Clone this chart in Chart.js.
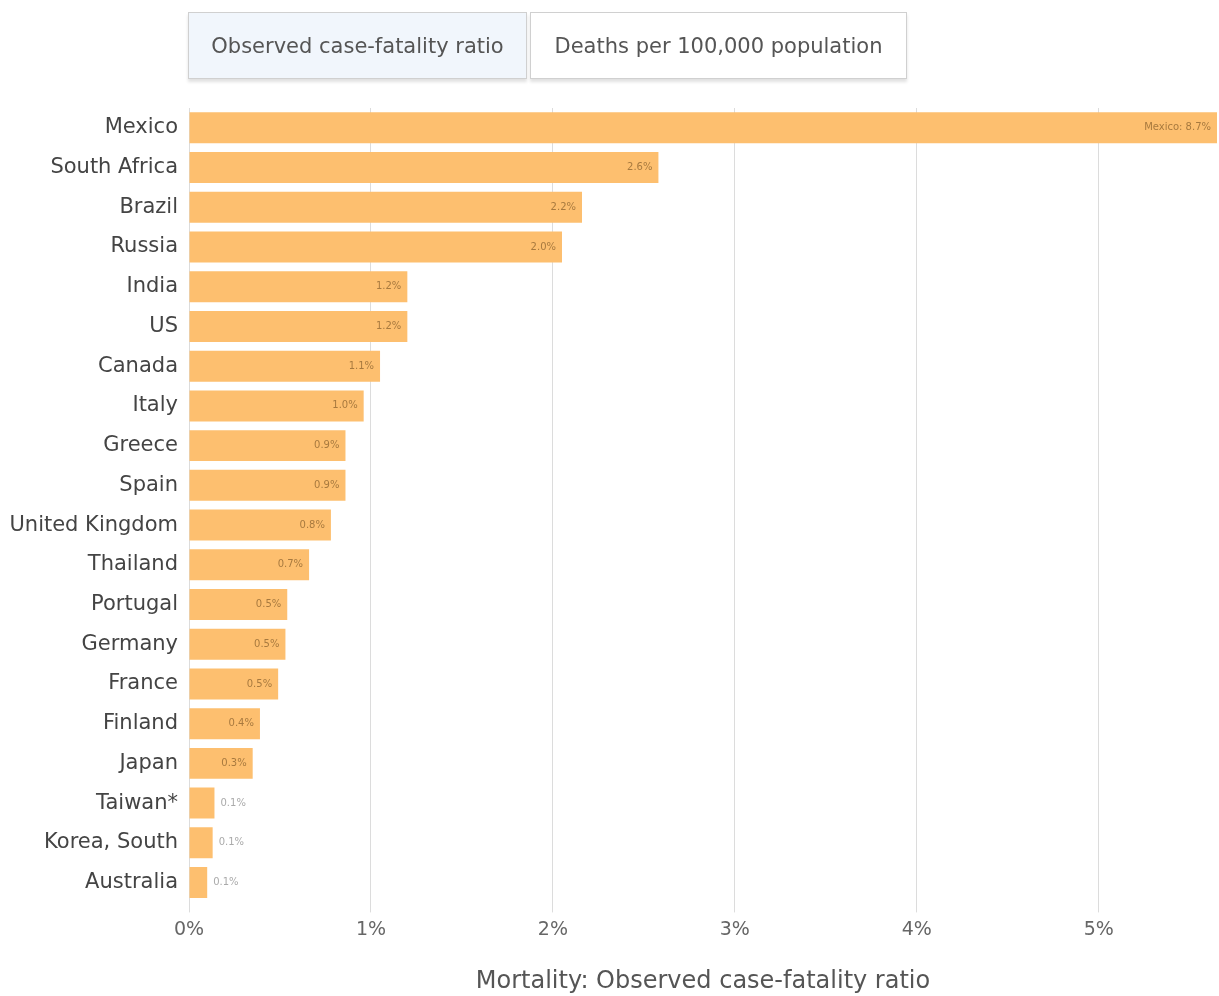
<!DOCTYPE html>
<html><head><meta charset="utf-8">
<script src="https://cdn.jsdelivr.net/npm/chart.js@4/dist/chart.umd.min.js"></script>
<style>
html,body{margin:0;padding:0;background:#fff;}
#wrap{position:relative;width:1219px;height:996px;}
canvas{position:absolute;left:0;top:0;}
.tab{position:absolute;top:12px;height:67px;box-sizing:border-box;border:1px solid #d0d0d0;font-family:"DejaVu Sans",sans-serif;font-size:21px;color:#555;display:flex;align-items:center;justify-content:center;box-shadow:0 3px 3px rgba(0,0,0,0.12);}
</style></head>
<body><div id="wrap">
<canvas id="c" width="1219" height="996"></canvas>
<div class="tab" style="left:188px;width:339px;background:#f1f6fc;">Observed case-fatality ratio</div>
<div class="tab" style="left:530px;width:377px;background:#fff;">Deaths per 100,000 population</div>
</div>
<script>
const countries = ["Mexico","South Africa","Brazil","Russia","India","US","Canada","Italy","Greece","Spain","United Kingdom","Thailand","Portugal","Germany","France","Finland","Japan","Taiwan*","Korea, South","Australia"];
const cfr = [8.7,2.58,2.16,2.05,1.2,1.2,1.05,0.96,0.86,0.86,0.78,0.66,0.54,0.53,0.49,0.39,0.35,0.14,0.13,0.1];
const tickValues = [0,1,2,3,4,5];
const axisMax = 5.65;
const axisTitle = "Mortality: Observed case-fatality ratio";

const labelPlugin = {
  id:'barLabels',
  afterDatasetsDraw(chart){
    const ctx = chart.ctx, area = chart.chartArea;
    const meta = chart.getDatasetMeta(0);
    ctx.save();
    ctx.font = '10px "DejaVu Sans", sans-serif';
    ctx.textBaseline = 'middle';
    meta.data.forEach((bar,i)=>{
      const v = cfr[i];
      let txt = v.toFixed(1)+'%';
      const w = bar.x - bar.base;
      if (bar.x > area.right) {
        txt = countries[i] + ': ' + txt;
        ctx.fillStyle = 'rgba(110,75,30,0.6)';
        ctx.textAlign = 'right';
        ctx.fillText(txt, area.right - 6, bar.y);
      } else if (w > 40) {
        ctx.fillStyle = 'rgba(110,75,30,0.6)';
        ctx.textAlign = 'right';
        ctx.fillText(txt, bar.x - 6, bar.y);
      } else {
        ctx.fillStyle = '#aaa';
        ctx.textAlign = 'left';
        ctx.fillText(txt, bar.x + 6, bar.y);
      }
    });
    ctx.restore();
  }
};

new Chart(document.getElementById('c'), {
  type:'bar',
  data:{labels:countries, datasets:[{data:cfr, backgroundColor:'#fdbf6f', borderWidth:0, categoryPercentage:0.78, barPercentage:1}]},
  options:{
    indexAxis:'y', responsive:false, animation:false, devicePixelRatio:1,
    layout:{padding:{top:108,right:2,bottom:0,left:0}},
    plugins:{legend:{display:false}, tooltip:{enabled:false}},
    scales:{
      x:{min:0,max:axisMax,
        afterBuildTicks(s){ s.ticks = tickValues.map(v=>({value:v})); },
        ticks:{callback:v=>v+'%', color:'#666', font:{family:'"DejaVu Sans", sans-serif', size:19}, padding:6, maxRotation:0},
        grid:{color:'#dcdcdc', lineWidth:1, drawTicks:true, tickLength:10},
        border:{display:false},
        title:{display:true, text:axisTitle, color:'#555', font:{family:'"DejaVu Sans", sans-serif', size:24}, padding:{top:20,bottom:0}}
      },
      y:{
        afterFit(s){ s.width = 189; },
        ticks:{color:'#444', font:{family:'"DejaVu Sans", sans-serif', size:21}, padding:3, autoSkip:false},
        grid:{display:false},
        border:{display:false}
      }
    }
  },
  plugins:[labelPlugin]
});
</script>
</body></html>
